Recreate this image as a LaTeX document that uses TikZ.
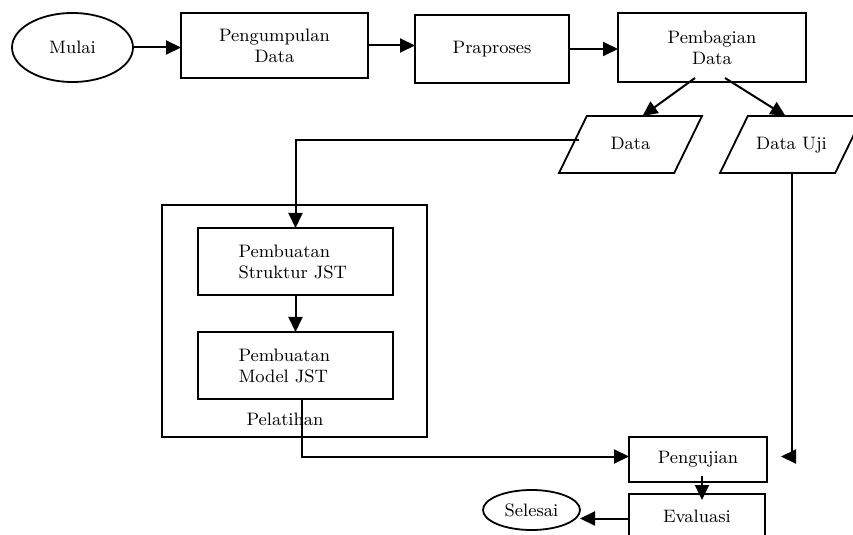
\documentclass[tikz,border=0pt]{standalone}
\usepackage{tikz}
\usetikzlibrary{arrows.meta,shapes.geometric}

\begin{document}
\begin{tikzpicture}[x=0.5pt,y=-0.5pt,
  every node/.style={font=\fontsize{9}{10.5}\selectfont, inner sep=0pt, outer sep=0pt},
  box/.style={draw, line width=1pt, align=center},
  term/.style={draw, ellipse, line width=0.9pt},
  io/.style={draw, trapezium, trapezium left angle=64, trapezium right angle=116,
    trapezium stretches body, line width=0.9pt, minimum width=71.5pt,
    text height=7pt, text depth=2pt, inner ysep=9.75pt},
  arr/.style={line width=1pt, -{Triangle[length=7.5pt,width=7pt]}}]
\useasboundingbox (0,0) rectangle (853,535);

% baris atas
\node[term, minimum width=60.5pt, minimum height=34.5pt] (mulai) at (72.5,47.5) {Mulai};
\node[box, minimum width=93.5pt, minimum height=32.5pt] (kumpul) at (274.5,45.5) {Pengumpulan\\Data};
\node[box, minimum width=77pt, minimum height=34pt] (praproses) at (492,49) {Praproses};
\node[box, minimum width=94pt, minimum height=34.5pt] (bagi) at (712,47.5) {Pembagian\\Data};

% data
\node[io] (data) at (630.5,144.5) {Data};
\node[io] (datauji) at (791.5,144.5) {Data Uji};

% pelatihan
\node[box, minimum width=132.5pt, minimum height=116pt] (latih) at (294.5,321) {};
\node[box, align=left, text width=57pt, minimum width=97.5pt, minimum height=33.5pt] (struktur) at (295.5,261.5) {Pembuatan\\Struktur JST};
\node[box, align=left, text width=57pt, minimum width=97.5pt, minimum height=33.5pt] (model) at (295.5,365.5) {Pembuatan\\Model JST};
\node (latihlbl) at (285,419) {Pelatihan};

% pengujian
\node[box, minimum width=69pt, minimum height=22.5pt] (uji) at (698,459.5) {Pengujian};
\node[box, minimum width=68pt, minimum height=22.5pt] (eval) at (697,516.5) {Evaluasi};
\node[term, minimum width=48.5pt, minimum height=20pt] (selesai) at (531.5,510) {Selesai};

\draw[arr] (mulai.east) -- (mulai.east -| kumpul.west);
\draw[arr] (kumpul.east) -- (kumpul.east -| praproses.west);
\draw[arr] (praproses.east) -- (praproses.east -| bagi.west);
\draw[arr] ([xshift=-8.5pt,yshift=2pt]bagi.south) -- ([xshift=6pt]data.north);
\draw[arr] ([xshift=6.5pt,yshift=2pt]bagi.south) -- ([xshift=-3pt]datauji.north);
\draw[arr] ([xshift=3pt,yshift=2pt]data.west) -| (struktur.north);
\draw[arr] (struktur) -- (model);
\draw[arr] ([xshift=3pt]model.south) |- ([yshift=1.5pt]uji.west);
\draw[arr, shorten >=7pt] (datauji.south) |- ([yshift=1.5pt]uji.east);
\draw[arr, shorten <=-3pt, shorten >=-3pt] ([xshift=2pt]uji.south) -- ([xshift=2.5pt]eval.north);
\draw[arr] ([yshift=-1pt]eval.west) -- ([yshift=-1pt]eval.west -| selesai.east);
\end{tikzpicture}
\end{document}
